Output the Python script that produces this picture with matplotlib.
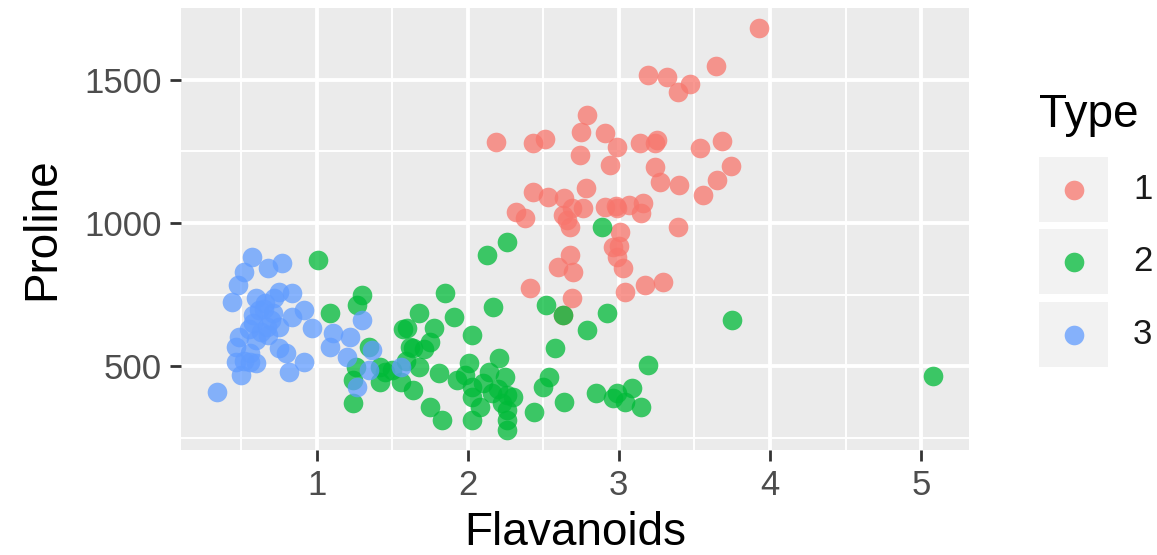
import matplotlib
matplotlib.use("Agg")
import matplotlib.pyplot as plt
from matplotlib.patches import Rectangle

plt.rcParams['font.family'] = ['Liberation Sans', 'DejaVu Sans']

# Type 1 (red)
flav_1 = [3.93, 3.64, 3.19, 3.32, 3.47, 3.39, 2.79, 2.75, 2.91, 2.99, 2.74, 3.14,
          3.24, 3.25, 3.54, 3.68, 2.94, 3.24, 3.74, 2.19, 2.43, 2.51, 3.27, 3.40,
          3.56, 3.65, 2.43, 2.53, 2.64, 2.78, 2.32, 2.38, 2.63, 2.69, 2.68, 2.76,
          2.91, 2.99, 3.07, 3.16, 3.15, 2.66, 3.01, 3.39, 2.96, 2.99, 3.03, 2.68,
          2.60, 2.70, 2.41, 2.69, 3.04, 3.17, 3.29, 2.63, 3.00, 2.98]
prol_1 = [1680, 1547, 1515, 1510, 1486, 1458, 1378, 1318, 1315, 1266, 1238, 1280,
          1280, 1290, 1262, 1287, 1203, 1196, 1199, 1283, 1280, 1294, 1143, 1133,
          1098, 1150, 1108, 1091, 1087, 1122, 1038, 1017, 1028, 1052, 986, 1052,
          1056, 1052, 1063, 1070, 1035, 1010, 969, 986, 916, 881, 843, 888,
          846, 829, 773, 738, 759, 783, 794, 680, 920, 1060]

# Type 2 (green)
flav_2 = [2.26, 2.13, 1.85, 2.17, 1.68, 1.91, 1.78, 2.03, 1.60, 1.75, 1.64, 2.52,
          2.63, 2.92, 2.79, 2.58, 2.01, 2.21, 2.25, 1.68, 1.81, 1.93, 2.03, 2.10,
          2.16, 2.30, 2.03, 2.08, 2.26, 2.26, 2.26, 2.03, 1.75, 1.83, 1.64, 1.56,
          2.44, 2.54, 2.50, 2.64, 2.85, 2.99, 3.09, 3.04, 3.15, 3.19, 1.01, 1.30,
          1.27, 1.09, 1.62, 1.35, 1.26, 1.42, 1.24, 1.42, 1.24, 1.50, 2.89, 3.75,
          5.08, 1.57, 2.96, 1.59, 2.14, 2.20, 1.98, 2.26, 1.71, 1.45, 2.23]
prol_2 = [934, 888, 755, 706, 685, 671, 633, 608, 633, 584, 563, 713,
          678, 685, 626, 563, 510, 528, 462, 497, 476, 451, 427, 440,
          406, 392, 392, 357, 346, 311, 278, 311, 357, 311, 416, 444,
          339, 462, 427, 374, 406, 406, 423, 374, 357, 503, 871, 748,
          713, 685, 566, 566, 497, 497, 451, 444, 371, 486, 985, 660,
          465, 630, 390, 520, 480, 420, 470, 400, 560, 480, 372]

# Type 3 (blue)
flav_3 = [0.57, 0.52, 0.68, 0.77, 0.48, 0.44, 0.60, 0.75, 0.84, 0.92, 0.84, 0.71,
          0.62, 0.58, 0.67, 0.75, 0.49, 0.60, 0.47, 0.56, 0.75, 0.80, 0.47, 0.56,
          0.60, 0.50, 0.82, 0.92, 0.34, 0.97, 1.09, 1.11, 1.22, 1.30, 1.20, 1.37,
          1.35, 1.27, 1.56, 0.58, 0.65, 0.70, 0.63, 0.68, 0.55, 0.66, 0.72, 0.52]
prol_3 = [881, 829, 843, 860, 783, 724, 738, 759, 755, 696, 671, 685,
          696, 650, 636, 636, 601, 591, 566, 545, 563, 545, 514, 514,
          510, 469, 479, 514, 409, 633, 566, 615, 601, 661, 531, 556,
          486, 427, 497, 680, 700, 660, 620, 610, 630, 720, 740, 520]

types = ['1', '2', '3']
colors = ['#F8766D', '#00BA38', '#619CFF']
x_ticks = [1, 2, 3, 4, 5]
y_ticks = [500, 1000, 1500]

W, H = 1157, 555
fig = plt.figure(figsize=(W / 100, H / 100), dpi=100)
ax = fig.add_axes([181 / W, 1 - 450 / H, 788 / W, 442 / H])
ax.set_facecolor('#EBEBEB')
for s in ax.spines.values():
    s.set_visible(False)

for fx, py, col in zip([flav_1, flav_2, flav_3], [prol_1, prol_2, prol_3], colors):
    ax.scatter(fx, py, s=200, color=col, alpha=0.75, linewidths=0, zorder=3)

ax.set_xlim(0.103, 5.317)
ax.set_ylim(208, 1750)
ax.set_xticks(x_ticks)
ax.set_yticks(y_ticks)
ax.set_xticks([0.5, 1.5, 2.5, 3.5, 4.5], minor=True)
ax.set_yticks([250, 750, 1250], minor=True)
ax.grid(which='major', color='white', linewidth=2.8, zorder=0)
ax.grid(which='minor', color='white', linewidth=1.4, zorder=0)
ax.set_axisbelow(True)
ax.tick_params(which='major', length=8, width=2, color='#333333',
               labelsize=25, labelcolor='#4D4D4D', pad=6)
ax.tick_params(which='minor', length=0)

ax.set_xlabel('Flavanoids', fontsize=33, labelpad=6)
ax.set_ylabel('Proline', fontsize=33, labelpad=14)

# legend drawn in pixel coordinates
lax = fig.add_axes([0, 0, 1, 1], zorder=5)
lax.set_xlim(0, W)
lax.set_ylim(H, 0)
lax.axis('off')
lax.text(1039, 127, 'Type', fontsize=33, ha='left', va='baseline')
key_top = [157, 229, 302]
for t, col, top in zip(types, colors, key_top):
    lax.add_patch(Rectangle((1039, top), 69, 65, facecolor='#F2F2F2', edgecolor='none'))
    lax.scatter([1073.5], [top + 32.5], s=200, color=col, alpha=0.75, linewidths=0)
    lax.text(1133, top + 32.5, t, fontsize=25, color='#1A1A1A', ha='left', va='center')

fig.savefig('out.png', dpi=100)
